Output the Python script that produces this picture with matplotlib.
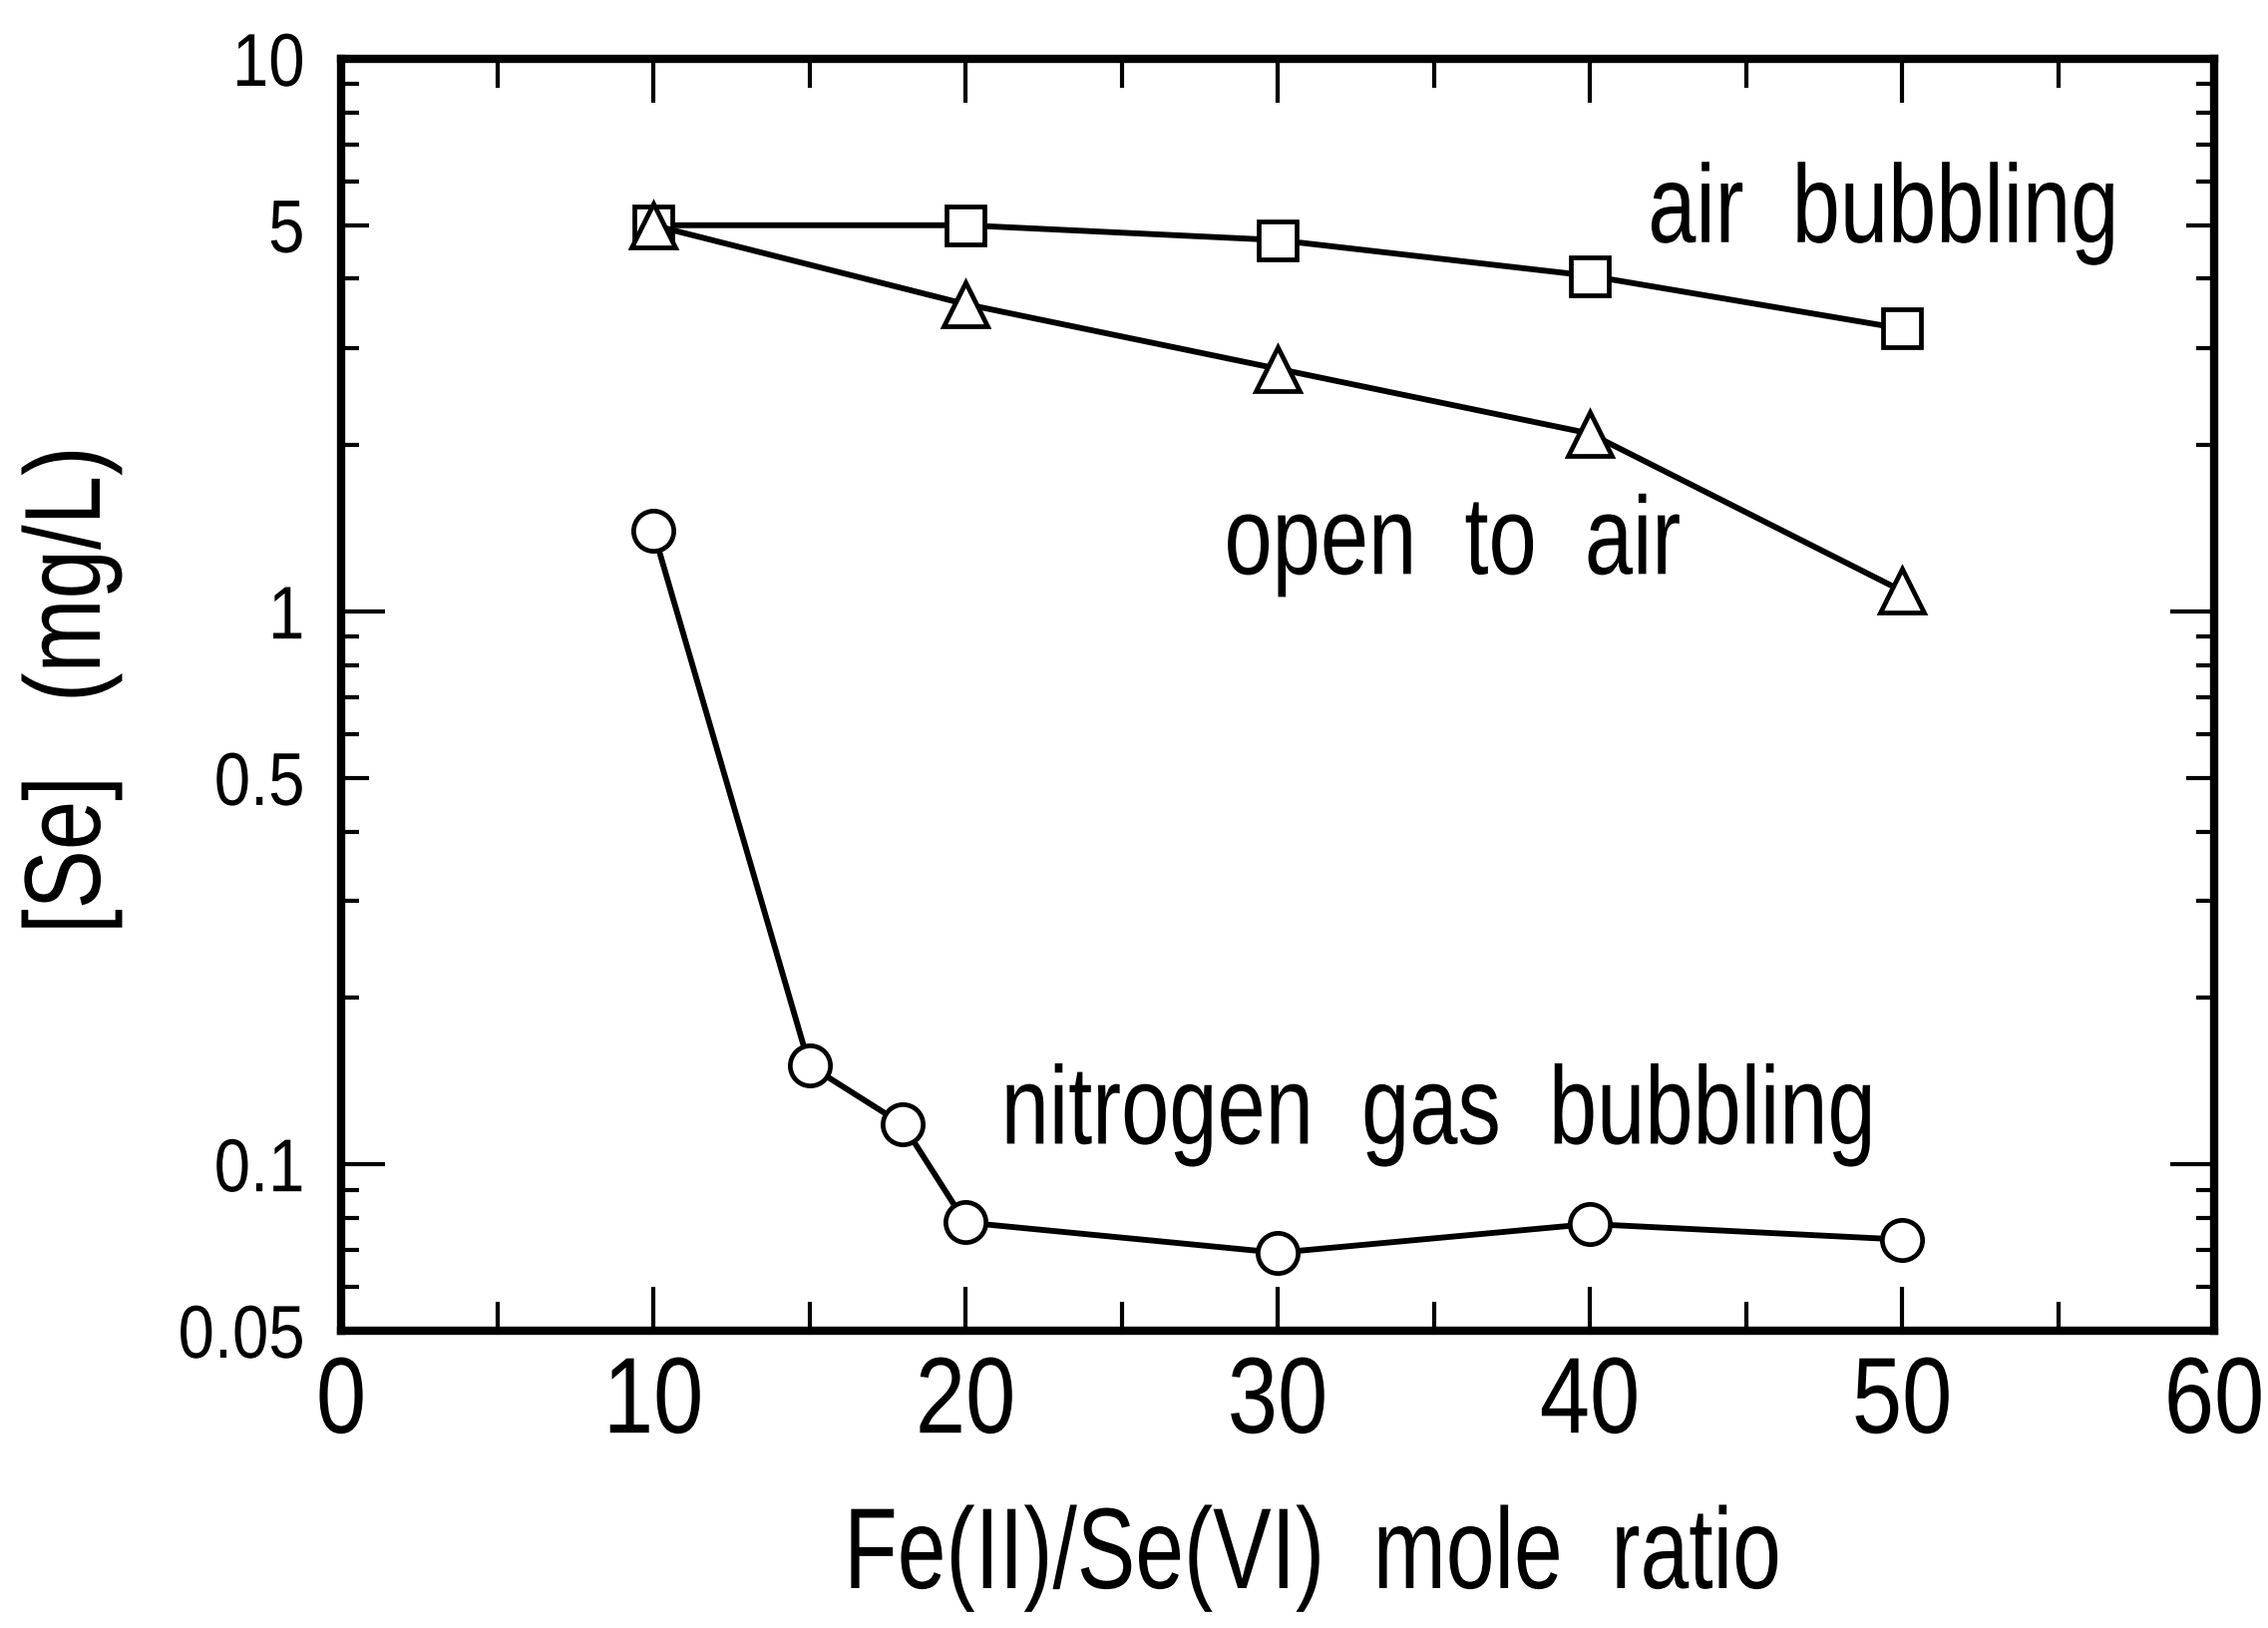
import numpy as np
import matplotlib
matplotlib.use('Agg')
import matplotlib.pyplot as plt
from matplotlib.ticker import FixedLocator, NullFormatter
from matplotlib.patheffects import AbstractPathEffect
from matplotlib.transforms import Affine2D

# data
x_air = [10, 20, 30, 40, 50]
y_air = [5.0, 5.0, 4.7, 4.05, 3.25]

x_open = [10, 20, 30, 40, 50]
y_open = [5.0, 3.6, 2.75, 2.1, 1.09]

x_n2 = [10, 15, 18, 20, 30, 40, 50]
y_n2 = [1.40, 0.151, 0.118, 0.0785, 0.0692, 0.078, 0.0731]

x_ticks = [0, 10, 20, 30, 40, 50, 60]
x_minor = [5, 15, 25, 35, 45, 55]
y_ticks = [0.05, 0.1, 0.5, 1, 5, 10]
y_tick_labels = ['0.05', '0.1', '0.5', '1', '5', '10']
y_minor = [0.06, 0.07, 0.08, 0.09, 0.2, 0.3, 0.4, 0.6, 0.7, 0.8, 0.9,
           2, 3, 4, 6, 7, 8, 9]


class Squeeze(AbstractPathEffect):
    """rescale text ink about a pivot, to fake a condensed face"""
    def __init__(self, sx=1.0, sy=1.0, px='center', py='center'):
        super().__init__()
        self.sx, self.sy = sx, sy
        self.px, self.py = px, py

    def draw_path(self, renderer, gc, tpath, affine, rgbFace=None):
        v = affine.transform(tpath.vertices)
        if len(v) == 0:
            return
        x0, x1 = v[:, 0].min(), v[:, 0].max()
        y0, y1 = v[:, 1].min(), v[:, 1].max()
        cx = {'left': x0, 'right': x1, 'center': 0.5 * (x0 + x1)}[self.px]
        cy = {'bottom': y0, 'top': y1, 'center': 0.5 * (y0 + y1)}[self.py]
        t = Affine2D().translate(-cx, -cy).scale(self.sx, self.sy).translate(cx, cy)
        renderer.draw_path(gc, tpath, affine + t, rgbFace)


plt.rcParams['font.family'] = 'Liberation Sans'

W, H = 2274, 1633
L, R, T, B = 342, 2220, 60, 1335
fig = plt.figure(figsize=(W / 100, H / 100), dpi=100)
ax = fig.add_axes([L / W, 1 - B / H, (R - L) / W, (B - T) / H])

lw = 4.2
mew = 3.4
ax.plot(x_air, y_air, '-s', color='black', lw=lw, ms=28, mfc='white', mec='black', mew=mew, zorder=3)
ax.plot(x_open, y_open, '-^', color='black', lw=lw, ms=32, mfc='white', mec='black', mew=mew, zorder=4)
ax.plot(x_n2, y_n2, '-o', color='black', lw=lw, ms=29, mfc='white', mec='black', mew=mew, zorder=3)

ax.set_yscale('log')
ax.set_xlim(0, 60)
ax.set_ylim(0.05, 10)

ax.set_xticks(x_ticks)
ax.set_xticklabels([str(v) for v in x_ticks], fontsize=65)
ax.xaxis.set_minor_locator(FixedLocator(x_minor))

ax.set_yticks(y_ticks)
ax.set_yticklabels(y_tick_labels, fontsize=54)
ax.yaxis.set_minor_locator(FixedLocator(y_minor))
ax.yaxis.set_minor_formatter(NullFormatter())

ax.tick_params(axis='x', which='major', direction='in', length=32, width=3,
               top=True, bottom=True, pad=17)
ax.tick_params(axis='x', which='minor', direction='in', length=21, width=3,
               top=True, bottom=True)
ax.tick_params(axis='y', which='major', direction='in', length=32, width=3,
               left=True, right=True, pad=26)
ax.tick_params(axis='y', which='minor', direction='in', length=13, width=3,
               left=True, right=True)

# 0.5 and 5 get mid length ticks, the ends sit on the frame
for t, v in zip(ax.yaxis.get_major_ticks(), y_ticks):
    if v in (0.5, 5):
        t.tick1line.set_markersize(20)
        t.tick2line.set_markersize(20)
    elif v in (0.05, 10):
        t.tick1line.set_markersize(0)
        t.tick2line.set_markersize(0)

# x numbers: tall narrow digits, stretched down from their top
for lab in ax.get_xticklabels():
    lab.set_path_effects([Squeeze(1.0, 1.2, 'center', 'top')])
for lab in ax.get_yticklabels():
    lab.set_path_effects([Squeeze(0.87, 1.0, 'right', 'center')])

for s in ax.spines.values():
    s.set_linewidth(6)

ax.set_xlabel('Fe(II)/Se(VI)  mole  ratio', fontsize=83,
              path_effects=[Squeeze(0.76, 1.0, 'center', 'center')])
ax.xaxis.label.set_va('baseline')
ax.xaxis.set_label_coords((1316 - L) / (R - L), (B - 1593) / (B - T))

ax.set_ylabel('[Se]   (mg/L)', fontsize=78,
              path_effects=[Squeeze(1.0, 0.82, 'center', 'center')])
ax.yaxis.label.set_va('center')
ax.yaxis.set_label_coords((72 - L) / (R - L), (B - 692) / (B - T))

sq = [Squeeze(0.78, 1.0, 'left', 'center')]
ax.text(41.86, 4.66, 'air  bubbling', fontsize=80, ha='left', va='baseline', path_effects=sq)
ax.text(28.29, 1.17, 'open  to  air', fontsize=80, ha='left', va='baseline', path_effects=sq)
ax.text(21.14, 0.109, 'nitrogen  gas  bubbling', fontsize=80, ha='left', va='baseline', path_effects=sq)

fig.savefig('out.png', dpi=100)
